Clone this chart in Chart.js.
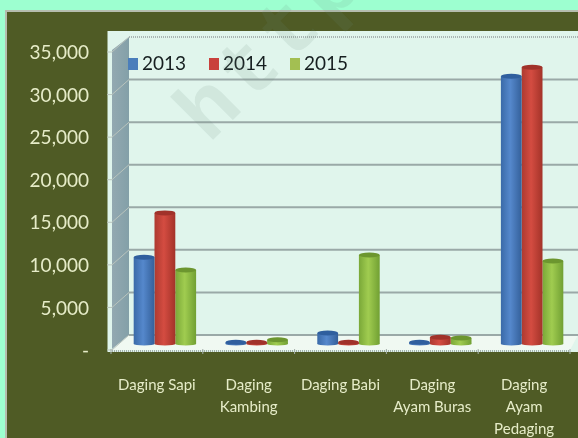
<!DOCTYPE html>
<html>
<head>
<meta charset="utf-8">
<script src="https://cdn.jsdelivr.net/npm/chart.js@4/dist/chart.umd.min.js"></script>
<style>
html, body { margin: 0; padding: 0; background: #9dffd0; }
canvas { display: block; filter: blur(0.45px); }
</style>
</head>
<body>
<canvas id="myChart" width="578" height="438"></canvas>
<script>
var categories = [["Daging Sapi"], ["Daging", "Kambing"], ["Daging Babi"], ["Daging", "Ayam Buras"], ["Daging", "Ayam", "Pedaging"]];
var seriesNames = ["2013", "2014", "2015"];
var values2013 = [10200, 200, 1300, 200, 31450];
var values2014 = [15400, 200, 200, 800, 32500];
var values2015 = [8700, 500, 10450, 700, 9750];
var barColors = [["#3a6aa8", "#5588cc", "#34609a"], ["#ad3a30", "#d44c41", "#a33329"], ["#7aa838", "#a0cc50", "#71a033"]];
var capColors = ["#2f5f9e", "#a0322a", "#6c962f"];
var legendColors = ["#4a7ebb", "#c9413c", "#a3bf52"];

var depthX = 8, wallUp = 9;

function cylinderFill(context) {
    var chart = context.chart;
    var cols = barColors[context.datasetIndex];
    if (context.dataIndex === undefined || !chart.scales.x) return cols[1];
    var w = chart.scales.x.width / categories.length * 0.68 / 3;
    var cx = chart.scales.x.getPixelForValue(context.dataIndex) + (context.datasetIndex - 1) * w;
    if (!isFinite(cx) || !isFinite(w)) return cols[1];
    var g = chart.ctx.createLinearGradient(cx - w / 2, 0, cx + w / 2, 0);
    g.addColorStop(0, cols[0]);
    g.addColorStop(0.45, cols[1]);
    g.addColorStop(1, cols[2]);
    return g;
}

var scenery = {
    id: "scenery",
    beforeDraw: function (chart) {
        var c = chart.ctx, y = chart.scales.y, x = chart.scales.x;
        var zero = y.getPixelForValue(0);
        var left = x.left, backX = left + 10, frontX = left - depthX + 1;
        // page and frame
        c.fillStyle = "#9dffd0";
        c.fillRect(0, 0, 578, 438);
        c.fillStyle = "#b5bdae";
        c.fillRect(5, 10, 573, 428);
        c.fillStyle = "#4f5b25";
        c.fillRect(7, 12, 571, 426);
        // panel
        c.fillStyle = "#e0f5ec";
        c.fillRect(107.5, 31, 471, 321);
        // side wall
        var top = y.getPixelForValue(35000) - wallUp;
        var g = c.createLinearGradient(frontX, 0, backX, 0);
        g.addColorStop(0, "#93a9b1");
        g.addColorStop(1, "#83a0a8");
        c.fillStyle = g;
        c.beginPath();
        c.moveTo(frontX, top + 13);
        c.lineTo(backX, top);
        c.lineTo(backX, zero - wallUp);
        c.lineTo(frontX, zero + 5);
        c.closePath();
        c.fill();
        // floor
        c.fillStyle = "#f0f9f2";
        c.beginPath();
        c.moveTo(backX, zero - wallUp);
        c.lineTo(578, zero - wallUp);
        c.lineTo(570, zero + 6);
        c.lineTo(frontX, zero + 6);
        c.closePath();
        c.fill();
        // gridlines on the walls
        y.ticks.forEach(function (t) {
            var py = y.getPixelForValue(t.value) - wallUp;
            c.strokeStyle = "#b9c4bd";
            c.lineWidth = 1;
            c.beginPath();
            c.moveTo(107, py + 15);
            c.lineTo(frontX, py + 15);
            c.lineTo(backX, py);
            c.stroke();
            if (t.value === 35000) {
                c.strokeStyle = "#a9b5b3";
                c.lineWidth = 2;
                c.setLineDash([1, 1]);
            } else {
                c.strokeStyle = "#9aa9a7";
                c.lineWidth = 2;
            }
            c.beginPath();
            c.moveTo(backX, py);
            c.lineTo(578, py);
            c.stroke();
            c.setLineDash([]);
        });
        // front floor edge with ticks
        c.strokeStyle = "#a5b0ab";
        c.lineWidth = 2;
        c.setLineDash([1, 1]);
        c.beginPath();
        c.moveTo(frontX, zero + 7);
        c.lineTo(570, zero + 7);
        c.stroke();
        c.setLineDash([]);
        c.lineWidth = 1;
        for (var i = 0; i <= categories.length; i++) {
            var tx = left - depthX + i * x.width / categories.length;
            c.beginPath();
            c.moveTo(tx, zero + 5);
            c.lineTo(tx, zero + 10);
            c.stroke();
        }
    },
    afterDatasetsDraw: function (chart) {
        var c = chart.ctx;
        chart.data.datasets.forEach(function (ds, di) {
            chart.getDatasetMeta(di).data.forEach(function (bar) {
                var rx = bar.width / 2;
                c.fillStyle = bar.options.backgroundColor;
                c.beginPath();
                c.ellipse(bar.x, bar.base, rx, 1.5, 0, 0, Math.PI * 2);
                c.fill();
                c.fillStyle = capColors[di];
                c.beginPath();
                c.ellipse(bar.x, bar.y, rx, 2.5, 0, 0, Math.PI * 2);
                c.fill();
            });
        });
        // legend
        c.font = "19px Lato";
        c.textBaseline = "middle";
        c.textAlign = "left";
        seriesNames.forEach(function (name, i) {
            var lx = 128 + i * 81;
            c.fillStyle = legendColors[i];
            c.fillRect(lx, 58, 10, 12);
            c.fillStyle = "#161f20";
            c.fillText(name, lx + 14, 64);
        });
        // watermark
        c.save();
        c.translate(209, 144);
        c.rotate(-Math.PI / 4);
        c.font = "bold 84px 'Liberation Mono'";
        c.letterSpacing = "6px";
        c.fillStyle = "rgba(110,140,120,0.13)";
        c.textBaseline = "alphabetic";
        c.fillText("http:", 0, 0);
        c.restore();
    }
};

new Chart("myChart", {
    type: "bar",
    data: {
        labels: categories,
        datasets: [
            { label: seriesNames[0], data: values2013, backgroundColor: cylinderFill },
            { label: seriesNames[1], data: values2014, backgroundColor: cylinderFill },
            { label: seriesNames[2], data: values2015, backgroundColor: cylinderFill },
        ],
    },
    options: {
        responsive: false,
        animation: false,
        layout: { padding: { top: 46, left: 0, right: 0, bottom: 0 } },
        datasets: { bar: { categoryPercentage: 0.68, barPercentage: 1 } },
        plugins: { legend: { display: false }, tooltip: { enabled: false } },
        scales: {
            x: {
                grid: { display: false },
                border: { display: false },
                afterFit: function (s) { s.height = 94; s.paddingLeft = 0; s.paddingRight = 0; },
                ticks: {
                    color: "#e6ecc8",
                    font: { family: "Lato", size: 15, lineHeight: 1.47 },
                    padding: 22,
                    labelOffset: -8,
                    autoSkip: false,
                    maxRotation: 0,
                },
            },
            y: {
                min: 0,
                max: 35000,
                grid: { display: false, drawTicks: false },
                border: { display: false },
                afterFit: function (s) { s.width = 119; },
                ticks: {
                    stepSize: 5000,
                    color: "#e6ecc8",
                    font: { family: "Lato", size: 19 },
                    padding: 30,
                    labelOffset: 7,
                    callback: function (v) { return v === 0 ? "-" : v.toLocaleString("en-US"); },
                },
            },
        },
    },
    plugins: [scenery],
});
</script>
</body>
</html>
